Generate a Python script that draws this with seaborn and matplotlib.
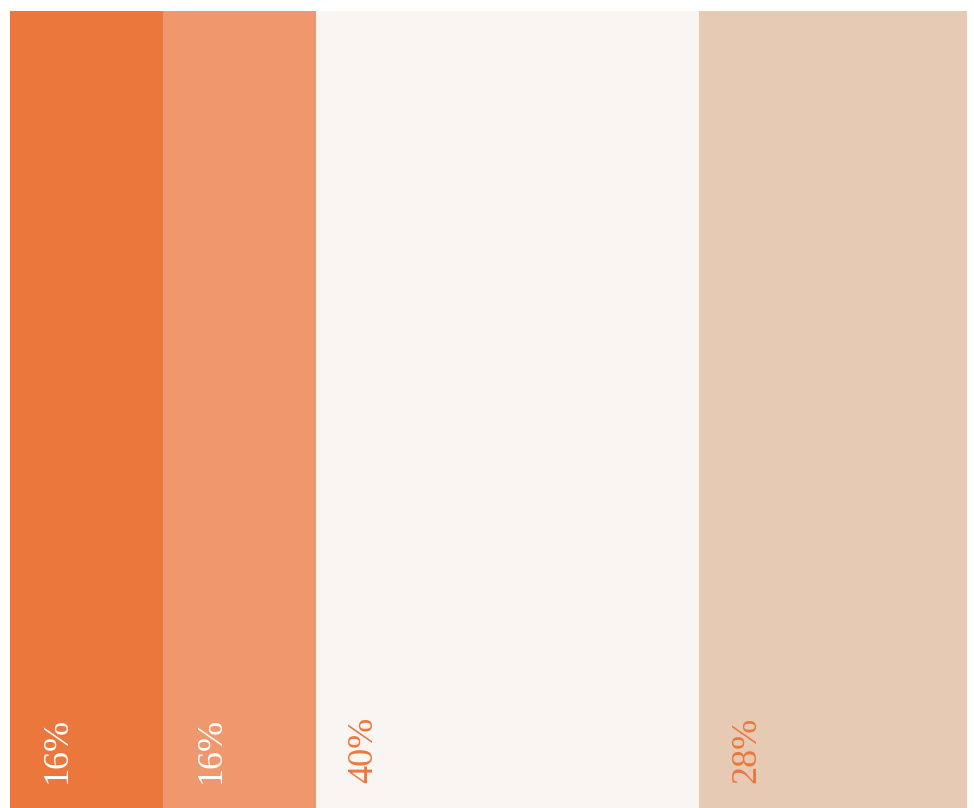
import numpy as np
import matplotlib
matplotlib.use("Agg")
import matplotlib.pyplot as plt
import seaborn as sns

# segment shares (percent), left to right
segments = ["seg1", "seg2", "seg3", "seg4"]
shares = [16, 16, 40, 28]
seg_colors = ["#EC773C", "#F0986D", "#F9F5F2", "#E6CAB4"]
label_colors = ["#FFFFFF", "#FFFFFF", "#EC773C", "#EC773C"]

sns.set_theme(style="white")
plt.rcParams["font.family"] = ["Liberation Serif", "DejaVu Serif"]

fig = plt.figure(figsize=(9.74, 8.08), dpi=100)
ax = fig.add_axes([10 / 974, 0, 957 / 974, 797 / 808])

starts = np.concatenate([[0], np.cumsum(shares)[:-1]])
ends = np.cumsum(shares)

# stacked bar: draw cumulative totals from the widest down so each covers the next
for i in reversed(range(len(shares))):
    sns.barplot(x=[ends[i]], y=["share"], orient="h", color=seg_colors[i],
                saturation=1, width=1, linewidth=0, edgecolor="none", ax=ax)

for s, v, c in zip(starts, shares, label_colors):
    ax.text(s + 5.0, 0.031, f"{v}%", transform=ax.get_xaxis_transform(),
            rotation=90, ha="center", va="bottom", fontsize=26, color=c)

ax.set_xlim(0, 100)
ax.set_ylim(0.5, -0.5)
ax.set_axis_off()

fig.savefig("out.png", dpi=100, facecolor="white")
